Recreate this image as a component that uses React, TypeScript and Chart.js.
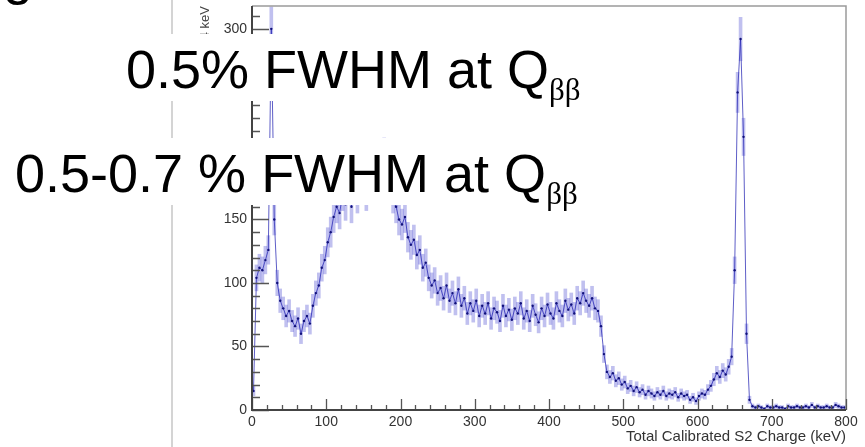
import React, { useEffect, useRef } from 'react';
import { Chart, registerables } from 'chart.js';

Chart.register(...registerables);

// ---- data ----
const binWidthKeV = 4;
// counts per 4 keV bin, from 0 keV to 800 keV
const counts = [
  15, 104, 112, 110, 118, 126, 300, 150, 100, 86,
  80, 74, 78, 70, 66, 72, 60, 70, 74, 68,
  82, 92, 98, 112, 118, 132, 140, 152, 160, 155,
  170, 162, 175, 160, 180, 168, 178, 185, 170, 182,
  190, 175, 186, 180, 200, 185, 176, 168, 160, 150,
  146, 152, 136, 130, 134, 122, 126, 112, 116, 104,
  98, 102, 92, 96, 88, 98, 86, 92, 84, 95,
  82, 88, 76, 84, 78, 86, 74, 82, 76, 84,
  72, 80, 77, 70, 82, 74, 79, 71, 80, 76,
  84, 72, 78, 70, 82, 75, 69, 80, 74, 83,
  76, 72, 84, 78, 74, 86, 79, 83, 76, 88,
  84, 92, 86, 82, 88, 80, 78, 66, 44, 30,
  26, 29, 23, 25, 20, 22, 17, 19, 15, 18,
  14, 16, 12, 15, 13, 11, 14, 12, 15, 11,
  13, 12, 14, 10, 13, 11, 12, 8, 10, 7,
  11, 13, 12, 16, 19, 24, 29, 26, 31, 28,
  34, 42, 110, 250, 292, 215, 60, 8, 3, 2,
  3, 2, 1, 3, 2, 2, 3, 2, 2, 1,
  3, 2, 2, 3, 2, 2, 3, 2, 4, 2,
  3, 2, 2, 3, 2, 2, 4, 3, 2, 2,
];
const xMinKeV = 0;
const xMaxKeV = 800;
const xTickStep = 100;
const xMinorStep = 20;
const yMin = 0;
const yMax = 318;
const yTickStep = 50;
const yMinorStep = 10;
const xTitle = 'Total Calibrated S2 Charge (keV)';
const yTitle = 'Counts / 4 keV';
const label1 = '0.5% FWHM at Q';
const label2 = '0.5-0.7 % FWHM at Q';
const labelSub = 'ββ';

const binCenters = counts.map((_, i) => i * binWidthKeV + binWidthKeV / 2);

const SANS = '"Liberation Sans", Arial, Helvetica, sans-serif';
const SERIF = '"Liberation Serif", "Times New Roman", serif';

const rootAxes = {
  id: 'rootAxes',
  afterDatasetsDraw(chart: any) {
    const { ctx, chartArea, scales } = chart;
    const { left, right, top, bottom } = chartArea;
    const x = scales.x;
    const y = scales.y;
    ctx.save();
    // frame (top & right)
    ctx.strokeStyle = '#9a9a9a';
    ctx.lineWidth = 1.5;
    ctx.beginPath();
    ctx.moveTo(left, top);
    ctx.lineTo(right, top);
    ctx.lineTo(right, bottom);
    ctx.stroke();
    // ticks
    ctx.strokeStyle = '#555';
    ctx.lineWidth = 1.3;
    ctx.beginPath();
    for (let v = xMinKeV; v <= xMaxKeV; v += xMinorStep) {
      const px = Math.round(x.getPixelForValue(v)) + 0.5;
      const len = v % xTickStep === 0 ? 11 : 5;
      ctx.moveTo(px, bottom);
      ctx.lineTo(px, bottom - len);
    }
    for (let v = yMin; v <= yMax; v += yMinorStep) {
      const py = Math.round(y.getPixelForValue(v)) + 0.5;
      const len = v % yTickStep === 0 ? 17 : 8;
      ctx.moveTo(left, py);
      ctx.lineTo(left + len, py);
    }
    ctx.stroke();
    // axes (left & bottom)
    ctx.strokeStyle = '#444';
    ctx.lineWidth = 2;
    ctx.beginPath();
    ctx.moveTo(left, top);
    ctx.lineTo(left, bottom);
    ctx.lineTo(right, bottom);
    ctx.stroke();
    ctx.restore();
  },
};

function ChartCanvas() {
  const ref = useRef<HTMLCanvasElement | null>(null);
  useEffect(() => {
    if (!ref.current) return;
    const chart = new Chart(ref.current, {
      type: 'bar',
      data: {
        datasets: [
          {
            type: 'line',
            data: binCenters.map((xv, i) => ({ x: xv, y: counts[i] })),
            borderColor: 'rgba(40,40,180,0.75)',
            borderWidth: 1,
            pointRadius: 1.2,
            pointBackgroundColor: '#10107a',
            pointBorderWidth: 0,
            tension: 0,
            order: 0,
          } as any,
          {
            type: 'bar',
            data: binCenters.map((xv, i) => ({
              x: xv,
              y: [counts[i] - Math.sqrt(counts[i]), counts[i] + Math.sqrt(counts[i])],
            })),
            backgroundColor: 'rgba(80,80,210,0.36)',
            borderWidth: 0,
            barPercentage: 1,
            categoryPercentage: 1,
            order: 1,
          } as any,
        ],
      },
      options: {
        animation: false,
        responsive: false,
        layout: { padding: { top: 6, right: 19, left: 0, bottom: 0 } },
        plugins: { legend: { display: false }, tooltip: { enabled: false } },
        scales: {
          x: {
            type: 'linear',
            min: xMinKeV,
            max: xMaxKeV,
            offset: false,
            grid: { display: false, drawTicks: false },
            border: { display: false },
            ticks: {
              stepSize: xTickStep,
              includeBounds: false,
              padding: 4,
              color: '#333',
              maxRotation: 0,
              autoSkip: false,
              font: { family: SANS, size: 14 },
            },
            title: {
              display: true,
              text: xTitle,
              align: 'end',
              padding: { top: 0, bottom: 1 },
              color: '#333',
              font: { family: SANS, size: 15 },
            },
            afterFit: (s: any) => {
              s.height = 37;
            },
          },
          y: {
            type: 'linear',
            min: yMin,
            max: yMax,
            grid: { display: false, drawTicks: false },
            border: { display: false },
            ticks: {
              stepSize: yTickStep,
              includeBounds: false,
              padding: 5,
              color: '#333',
              font: { family: SANS, size: 14 },
            },
            title: {
              display: true,
              text: yTitle,
              align: 'end',
              padding: { top: 198, bottom: 0 },
              color: '#444',
              font: { family: SANS, size: 13 },
            },
            afterFit: (s: any) => {
              s.width = 252;
              s.paddingTop = 0;
              s.paddingBottom = 0;
            },
          },
        },
      } as any,
      plugins: [rootAxes],
    });
    return () => chart.destroy();
  }, []);
  return (
    <canvas
      ref={ref}
      width={865}
      height={447}
      style={{ position: 'absolute', left: 0, top: 0, width: 865, height: 447 }}
    />
  );
}

const bigText: React.CSSProperties = {
  position: 'absolute',
  fontFamily: SANS,
  fontSize: 54,
  lineHeight: '54px',
  color: '#000',
  whiteSpace: 'nowrap',
};
const subText: React.CSSProperties = {
  fontFamily: SERIF,
  fontSize: 31,
  lineHeight: 0,
  position: 'relative',
  top: 12,
};

export default function App() {
  return (
    <div
      style={{
        position: 'absolute',
        left: 0,
        top: 0,
        width: 865,
        height: 447,
        overflow: 'hidden',
        background: '#fff',
      }}
    >
      <div style={{ position: 'absolute', left: 171, top: 0, width: 2, height: 447, background: '#d4d4d4' }} />
      <ChartCanvas />
      <div style={{ ...bigText, left: 3, top: -52 }}>g</div>
      <div style={{ position: 'absolute', left: 118, top: 34, width: 482, height: 67, background: '#fff' }} />
      <div style={{ position: 'absolute', left: 0, top: 138, width: 600, height: 67, background: '#fff' }} />
      <div style={{ ...bigText, left: 126, top: 42 }}>
        {label1}
        <span style={subText}>{labelSub}</span>
      </div>
      <div style={{ ...bigText, left: 15, top: 146 }}>
        {label2}
        <span style={subText}>{labelSub}</span>
      </div>
    </div>
  );
}
